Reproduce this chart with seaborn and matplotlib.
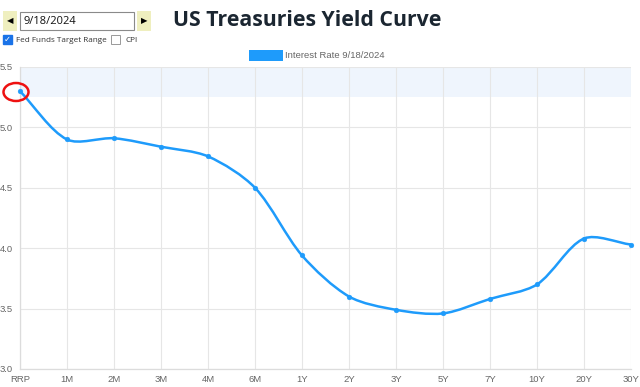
import numpy as np
import pandas as pd
import seaborn as sns
import matplotlib.pyplot as plt
from matplotlib.path import Path
from matplotlib.patches import PathPatch, Rectangle, Ellipse

# data
tenors = ['RRP', '1M', '2M', '3M', '4M', '6M', '1Y', '2Y', '3Y', '5Y', '7Y', '10Y', '20Y', '30Y']
rates = [5.30, 4.90, 4.91, 4.84, 4.76, 4.50, 3.94, 3.60, 3.49, 3.46, 3.58, 3.70, 4.08, 4.03]
fed_low = 5.25
fed_high = 5.50
y_ticks = [3.0, 3.5, 4.0, 4.5, 5.0, 5.5]
date_label = '9/18/2024'

blue = '#1e9bfb'
grey_txt = '#666666'
small_font = ['Liberation Sans', 'DejaVu Sans']

df = pd.DataFrame({'tenor': tenors, 'rate': rates})

sns.set_theme(style='white')
plt.rcParams['font.family'] = small_font

fig = plt.figure(figsize=(6.4, 3.87), dpi=100)
ax = fig.add_axes([20 / 640, 1 - 369 / 387, 611 / 640, (369 - 67) / 387])

# fed funds target range band
ax.axhspan(fed_low, fed_high, color='#eff5fd', zorder=0, lw=0)

# smooth curve like chart.js (tension), control points worked out in pixel space
sx, sy = 47.0, 120.8
x = np.arange(len(rates), dtype=float)
y = np.array(rates)
px, py = x * sx, y * sy
t = 0.3
cp_in, cp_out = [], []
for i in range(len(x)):
    i0 = max(i - 1, 0)
    i2 = min(i + 1, len(x) - 1)
    d01 = np.hypot(px[i] - px[i0], py[i] - py[i0])
    d12 = np.hypot(px[i2] - px[i], py[i2] - py[i])
    tot = d01 + d12 if d01 + d12 > 0 else 1
    fa, fb = t * d01 / tot, t * d12 / tot
    dx, dy = px[i2] - px[i0], py[i2] - py[i0]
    cp_in.append(((px[i] - fa * dx) / sx, (py[i] - fa * dy) / sy))
    cp_out.append(((px[i] + fb * dx) / sx, (py[i] + fb * dy) / sy))

verts = [(x[0], y[0])]
codes = [Path.MOVETO]
for i in range(1, len(x)):
    verts += [cp_out[i - 1], cp_in[i], (x[i], y[i])]
    codes += [Path.CURVE4] * 3
ax.add_patch(PathPatch(Path(verts, codes), fill=False, edgecolor=blue, lw=1.8, zorder=3, clip_on=False))

sns.scatterplot(data=df, x='tenor', y='rate', color=blue, s=12, edgecolor=blue, zorder=4, ax=ax, clip_on=False)

ax.set_xlim(0, len(tenors) - 1)
ax.set_ylim(3.0, 5.5)
ax.set_yticks(y_ticks)
ax.set_yticklabels([f'{v:.1f}' for v in y_ticks])
ax.set_xticks(range(len(tenors)))
ax.set_xticklabels(tenors)
ax.set_xlabel('')
ax.set_ylabel('')
ax.grid(True, color='#e6e6e6', lw=0.8)
ax.set_axisbelow(True)
for s in ['top', 'right']:
    ax.spines[s].set_visible(False)
for s in ['left', 'bottom']:
    ax.spines[s].set_color('#dcdcdc')
    ax.spines[s].set_linewidth(0.9)
ax.tick_params(axis='both', colors=grey_txt, labelsize=6.8, length=0, pad=4)
ax.tick_params(axis='y', pad=5)

# red circle around RRP point
ax.add_patch(Ellipse((16 / 640, 1 - 92 / 387), 25 / 640, 18 / 387, transform=fig.transFigure,
                     fill=False, edgecolor='#ee1111', lw=1.8, zorder=6, clip_on=False))

# top controls
def fig_rect(x0, y0, w, h, **kw):
    fig.patches.append(Rectangle((x0 / 640, 1 - (y0 + h) / 387), w / 640, h / 387,
                                 transform=fig.transFigure, **kw))

fig_rect(3, 11, 14, 20, facecolor='#efefbf', edgecolor='none')
fig_rect(137, 11, 14, 20, facecolor='#efefbf', edgecolor='none')
fig.text(10 / 640, 1 - 21 / 387, '\u25c0', ha='center', va='center', fontsize=6, color='black',
         family='DejaVu Sans')
fig.text(144 / 640, 1 - 21 / 387, '\u25b6', ha='center', va='center', fontsize=6, color='black',
         family='DejaVu Sans')
fig_rect(20, 12, 114, 18, facecolor='white', edgecolor='#8a8a8a', lw=0.8)
fig.text(23 / 640, 1 - 21 / 387, date_label, ha='left', va='center', fontsize=8, color='#111111',
         family='Open Sans')

fig_rect(3, 35, 9, 9, facecolor='#1a73e8', edgecolor='#1a73e8')
fig.text(7.5 / 640, 1 - 39.5 / 387, '\u2713', ha='center', va='center', fontsize=6, color='white',
         fontweight='bold', family='DejaVu Sans')
fig.text(16 / 640, 1 - 40 / 387, 'Fed Funds Target Range', ha='left', va='center', fontsize=5.9,
         color='#333333', family='Open Sans')
fig_rect(111, 35, 9, 9, facecolor='white', edgecolor='#999999', lw=0.7)
fig.text(125 / 640, 1 - 40 / 387, 'CPI', ha='left', va='center', fontsize=5.9, color='#333333',
         family='Open Sans')

fig.text(307 / 640, 1 - 21 / 387, 'US Treasuries Yield Curve', ha='center', va='center',
         fontsize=15.3, fontweight='bold', color='#1b2631', family='Open Sans')

# legend
fig_rect(249, 50, 34, 11, facecolor=blue, edgecolor='none')
fig.text(285 / 640, 1 - 55.5 / 387, f'Interest Rate {date_label}', ha='left', va='center',
         fontsize=6.8, color=grey_txt)

fig.savefig('out.png', dpi=100)
